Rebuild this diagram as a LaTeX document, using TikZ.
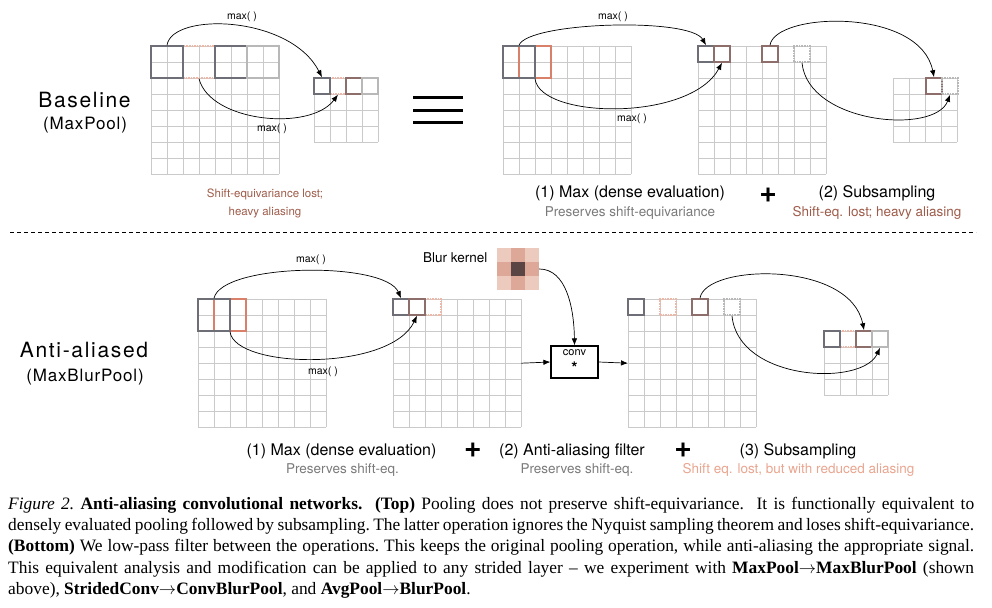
\documentclass[tikz,border=0pt]{standalone}
\usepackage{fontspec}
\setmainfont{TeX Gyre Heros}
\newfontfamily\capfont[Ligatures=TeX]{Liberation Serif}
\usetikzlibrary{arrows.meta}
\definecolor{winGray}{HTML}{6E6E76}
\definecolor{winRed}{HTML}{D8806A}
\definecolor{winMix}{HTML}{8E6E6A}
\definecolor{winFaint}{HTML}{EDB8A8}
\definecolor{winLight}{HTML}{B8B8B8}
\definecolor{lineGray}{HTML}{CACACA}
\definecolor{lostBrown}{HTML}{9E5B49}
\definecolor{lostSalmon}{HTML}{E9A58F}
\definecolor{keepGray}{HTML}{7A7A7A}
\definecolor{kerDark}{HTML}{5A4444}
\definecolor{kerMid}{HTML}{DDA898}
\definecolor{kerLight}{HTML}{EDCABE}

% feature map: name, top-left x, top-left y, cells
\newcommand{\fmap}[4]{%
  \foreach \k in {0,...,#4}{
    \draw[fmapline] (#2+16*\k,#3) -- (#2+16*\k,#3-16*#4);
    \draw[fmapline] (#2,#3-16*\k) -- (#2+16*#4,#3-16*\k);
  }
  \node[inner sep=0pt, minimum size=16pt*#4, anchor=north west] (#1) at (#2,#3) {};
}

\begin{document}
\begin{tikzpicture}[x=1pt, y=1pt,
  fmapline/.style={draw=lineGray, line width=0.6pt},
  win/.style={draw, inner sep=0pt, minimum size=16pt, line width=1.6pt},
  wdark/.style={draw=winGray},
  wred/.style={draw=winRed},
  wmix/.style={draw=winMix},
  wfaint/.style={draw=winFaint, densely dotted, line width=1.3pt},
  wlight/.style={draw=winLight},
  arrow/.style={-{Latex[length=7pt,width=5.5pt]}, line width=0.7pt},
  maxlbl/.style={font=\fontsize{10.5}{12}\selectfont},
  biglbl/.style={font={\fontsize{21}{24}\selectfont\addfontfeature{LetterSpace=8}}},
  medlbl/.style={font={\fontsize{17}{20}\selectfont\addfontfeature{LetterSpace=5}}},
  lbl/.style={font=\fontsize{16}{19}\selectfont},
  sublbl/.style={font=\fontsize{13.5}{16}\selectfont},
  plus/.style={font=\fontsize{30}{30}\selectfont\bfseries}
]
\useasboundingbox (0,0) rectangle (992,607);

% baseline
\fmap{inA}{151}{561}{8}
\fmap{outA}{314}{529}{4}
\node[win, wfaint, minimum size=32pt] (a1) at (199,545) {};
\node[win, wdark, minimum size=32pt] (a0) at (167,545) {};
\node[win, wdark, minimum size=32pt] (a2) at (231,545) {};
\node[win, wlight, minimum size=32pt] (a3) at (263,545) {};
\node[win, wfaint] (p1) at (338,521) {};
\node[win, wdark] (p0) at (322,521) {};
\node[win, wmix] (p2) at (354,521) {};
\node[win, wlight] (p3) at (370,521) {};
\draw[arrow] (a0.north) .. controls (172,595) and (290,592) .. (p0.north);
\draw[arrow] (a1.south) .. controls (210,485) and (310,475) .. (p1.south);
\node[maxlbl] (ma0) at (242,590) {max( )};
\node[maxlbl] (ma1) at (272,478) {max( )};
\node[biglbl] (base) at (84.5,507) {Baseline};
\node[medlbl] (basesub) at (85,482) {(MaxPool)};
\node[font=\fontsize{11.5}{18}\selectfont, text=lostBrown, align=center] (lostA) at (265,404) {Shift-equivariance lost;\\heavy aliasing};
\foreach \y in {509,496,484}
  \draw[line width=3pt] (413,\y) -- (463,\y);

% max (dense) + subsampling
\fmap{inB}{503}{561}{8}
\fmap{denB}{698}{561}{8}
\fmap{subB}{893}{529}{4}
\node[win, wred, minimum size=32pt] (b1) at (535,545) {};
\node[win, wdark, minimum size=32pt] (b0) at (519,545) {};
\node[win, wdark] (c0) at (706,553) {};
\node[win, wmix] (c1) at (722,553) {};
\node[win, wmix] (c4) at (770,553) {};
\node[win, wlight, densely dotted] (c6) at (802,553) {};
\node[win, wmix] (s2) at (934,521) {};
\node[win, wlight, densely dotted] (s3) at (950,521) {};
\draw[arrow] (b0.north) .. controls (528,585) and (690,590) .. (c0.north);
\draw[arrow] (b1.south) .. controls (540,488) and (690,485) .. (c1.south);
\draw[arrow] (c4.north) .. controls (775,595) and (920,600) .. (s2.north);
\draw[arrow] (c6.south) .. controls (808,483) and (935,472) .. (s3.south);
\node[maxlbl] (mb0) at (613,590) {max( )};
\node[maxlbl] (mb1) at (632,488) {max( )};
\node[lbl] (t1) at (630,414) {(1) Max (dense evaluation)};
\node[sublbl, text=keepGray] (t1s) at (630,394) {Preserves shift-equivariance};
\node[plus] (plusA) at (768,412) {+};
\node[lbl] (t2) at (877,414) {(2) Subsampling};
\node[sublbl, text=lostBrown] (t2s) at (877,394) {Shift-eq. lost; heavy aliasing};

\draw[line width=1pt, dash pattern=on 4pt off 3pt] (10,374) -- (976,374);

% anti-aliased
\fmap{inC}{198}{308}{8}
\fmap{denC}{393}{308}{8}
\fmap{blurC}{628}{308}{8}
\fmap{subC}{824}{276}{4}
\node[win, wred, minimum size=32pt] (e1) at (230,292) {};
\node[win, wdark, minimum size=32pt] (e0) at (214,292) {};
\node[win, wfaint] (f2) at (433,300) {};
\node[win, wdark] (f0) at (401,300) {};
\node[win, wmix] (f1) at (417,300) {};
\node[win, wdark] (g0) at (636,300) {};
\node[win, wfaint] (g2) at (668,300) {};
\node[win, wmix] (g4) at (700,300) {};
\node[win, wlight, densely dotted] (g6) at (732,300) {};
\node[win, wfaint] (h1) at (848,268) {};
\node[win, wdark] (h0) at (832,268) {};
\node[win, wmix] (h2) at (864,268) {};
\node[win, wlight] (h3) at (880,268) {};
\node[inner sep=0pt, minimum size=42pt, fill=kerLight] (kernel) at (518,338) {};
\fill[kerMid] ([yshift=-7pt]kernel.west) rectangle ([yshift=7pt]kernel.east);
\fill[kerMid] ([xshift=-7pt]kernel.south) rectangle ([xshift=7pt]kernel.north);
\fill[kerDark] ([shift={(-7pt,-7pt)}]kernel.center) rectangle ([shift={(7pt,7pt)}]kernel.center);
\node[anchor=east, font=\fontsize{13.5}{16}\selectfont] (blurlbl) at (491,349) {Blur kernel};
\node[draw, line width=1.2pt, minimum width=47pt, minimum height=32pt, align=center, font=\fontsize{11}{13}\selectfont] (conv) at (574.5,245) {conv\\[5pt]{\fontsize{16}{13}\selectfont\bfseries *}};
\draw[arrow] (e0.north) .. controls (222,344) and (385,346) .. (f0.north);
\draw[arrow] (e1.south) .. controls (235,238) and (390,235) .. (f1.south);
\draw[arrow] (kernel.east) .. controls (566,338) and (574,300) .. (conv.north);
\draw[arrow] (denC.east) -- (conv.west);
\draw[arrow] (conv.east) -- (blurC.west);
\draw[arrow] (g4.north) .. controls (705,343) and (850,347) .. (h2.north);
\draw[arrow] (g6.south) .. controls (738,226) and (862,220) .. (h3.south);
\node[maxlbl] (mc0) at (311,347) {max( )};
\node[maxlbl] (mc1) at (323,235) {max( )};
\node[biglbl] (aa) at (84,257) {Anti-aliased};
\node[medlbl] (aasub) at (85,230) {(MaxBlurPool)};
\node[lbl] (u1) at (341.5,156) {(1) Max (dense evaluation)};
\node[sublbl, text=keepGray] (u1s) at (342.5,137) {Preserves shift-eq.};
\node[plus] (plusB) at (473,157) {+};
\node[lbl] (u2) at (572,156) {(2) Anti-aliasing filter};
\node[sublbl, text=keepGray] (u2s) at (577,137) {Preserves shift-eq.};
\node[plus] (plusC) at (683,157) {+};
\node[lbl] (u3) at (798,156) {(3) Subsampling};
\node[sublbl, text=lostSalmon] (u3s) at (798.5,137) {Shift eq. lost, but with reduced aliasing};

% caption
\node[anchor=north west, text width=966pt, align=justify, inner sep=0pt,
  font=\capfont\fontsize{17.4}{21.2}\selectfont\frenchspacing] (caption) at (8,110)
  {\textit{Figure 2.} \textbf{Anti-aliasing convolutional networks.}\ \ \textbf{(Top)} Pooling does not preserve shift-equivariance.\ \ It is functionally equivalent to\linebreak
  densely evaluated pooling followed by subsampling. The latter operation ignores the Nyquist sampling theorem and loses shift-equivariance.\linebreak
  \textbf{(Bottom)} We low-pass filter between the operations. This keeps the original pooling operation, while anti-aliasing the appropriate signal.\linebreak
  This equivalent analysis and modification can be applied to any strided layer -- we experiment with \textbf{MaxPool$\rightarrow$MaxBlurPool} (shown\linebreak
  above), \textbf{StridedConv$\rightarrow$ConvBlurPool}, and \textbf{AvgPool$\rightarrow$BlurPool}.};
\end{tikzpicture}
\end{document}
